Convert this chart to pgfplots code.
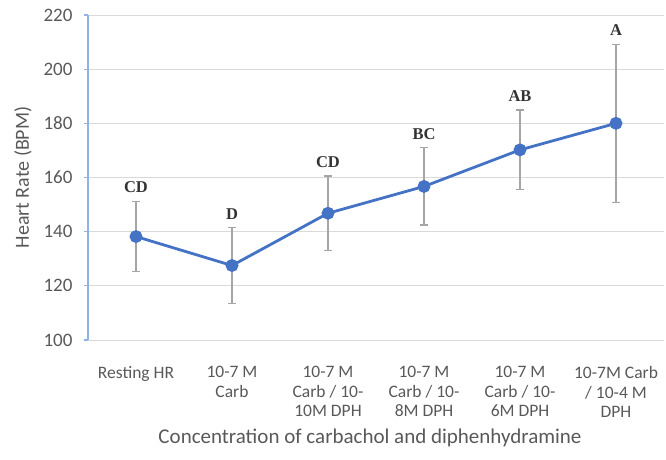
\documentclass[border=0pt]{standalone}
\usepackage{pgfplots}
\pgfplotsset{compat=1.18}
\usepackage{fontspec}
\setmainfont{Carlito}
\newfontfamily\letterfont{Liberation Serif}
\definecolor{lineblue}{HTML}{4472C4}
\definecolor{axisblue}{HTML}{8EB4E3}
\definecolor{errgray}{HTML}{A5A5A5}
\definecolor{txtgray}{HTML}{595959}
\definecolor{gridgray}{HTML}{D9D9D9}
\begin{document}
\begin{tikzpicture}
\begin{axis}[
  scale only axis,
  width=576pt, height=325pt,
  xmin=-0.5, xmax=5.5,
  ymin=100, ymax=220,
  ytick={100,120,...,220},
  xtick={0,1,2,3,4,5},
  xticklabels={Resting HR, {10-7 M\\Carb}, {10-7 M\\Carb / 10-\\10M DPH}, {10-7 M\\Carb / 10-\\8M DPH}, {10-7 M\\Carb / 10-\\6M DPH}, {10-7M Carb\\/ 10-4 M\\DPH}},
  xticklabel style={align=center, font=\fontsize{17.5}{19.5}\selectfont, text=txtgray, yshift=-19pt},
  yticklabel style={font=\fontsize{19}{21}\selectfont, text=txtgray, xshift=-8pt},
  /pgf/number format/assume math mode=true,
  axis y line*=left,
  axis x line*=bottom,
  x axis line style={draw=none},
  y axis line style={-, color=axisblue, line width=1.5pt},
  xtick style={draw=none},
  ytick style={color=axisblue, line width=1.2pt},
  tick align=outside,
  major tick length=4pt,
  ymajorgrids,
  grid style={gridgray, line width=0.8pt},
  xlabel={Concentration of carbachol and diphenhydramine},
  ylabel={Heart Rate (BPM)},
  xlabel style={font=\fontsize{21}{22}\selectfont, text=txtgray, yshift=-4pt, xshift=-6pt},
  ylabel style={font=\fontsize{20}{22}\selectfont, text=txtgray, yshift=5pt},
  clip=false,
]
\addplot[
  lineblue, line width=2.8pt,
  mark=*, mark size=5pt, mark options={fill=lineblue, draw=lineblue},
  error bars/.cd, y dir=both, y explicit,
  error bar style={errgray, line width=1.4pt},
  error mark options={errgray, line width=1.4pt, mark size=4pt, rotate=90},
] coordinates {
  (0,138.2) +- (0,12.9)
  (1,127.5) +- (0,14.0)
  (2,146.8) +- (0,13.8)
  (3,156.7) +- (0,14.3)
  (4,170.2) +- (0,14.7)
  (5,180.0) +- (0,29.2)
};
\addplot[
  draw=none, mark=none,
  nodes near coords,
  point meta=explicit symbolic,
  every node near coord/.append style={anchor=south, yshift=5pt, font=\letterfont\bfseries\fontsize{16.5}{18}\selectfont, text=black!80},
] coordinates {
  (0,151.1)[CD]
  (1,141.5)[D]
  (2,160.6)[CD]
  (3,171.0)[BC]
  (4,184.9)[AB]
  (5,209.2)[A]
};
\end{axis}
\path (current axis.south west) ++(-88pt,-120pt) coordinate (bl);
\path (current axis.north east) ++(2pt,15pt) coordinate (tr);
\useasboundingbox (bl) rectangle (tr);
\end{tikzpicture}
\end{document}
